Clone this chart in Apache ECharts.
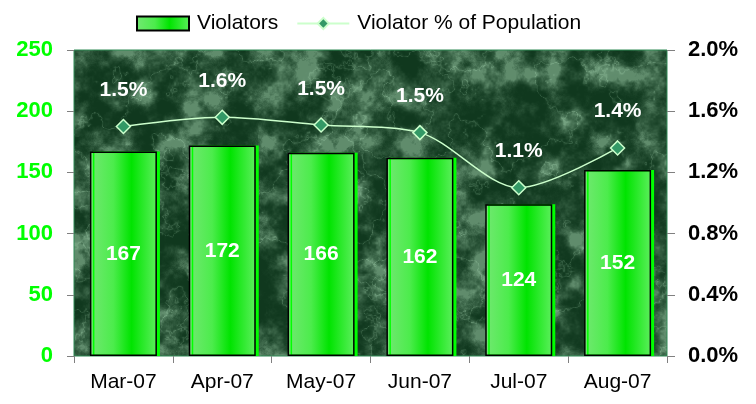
<!DOCTYPE html>
<html>
<head>
<meta charset="utf-8">
<script src="https://cdn.jsdelivr.net/npm/echarts@6/dist/echarts.min.js"></script>
<style>html,body{margin:0;padding:0;background:#fff}#c{width:756px;height:404px}</style>
</head>
<body>
<div id="c"></div>
<script>
const categories = ['Mar-07', 'Apr-07', 'May-07', 'Jun-07', 'Jul-07', 'Aug-07'];
const violators = [167, 172, 166, 162, 124, 152];
const violatorPct = [1.50, 1.56, 1.51, 1.46, 1.10, 1.36];
const leftTicks = { min: 0, max: 250, interval: 50 };
const rightTicks = { min: 0, max: 2.0, interval: 0.4 };

// decorative marble-like texture for the plot background (deterministic hash noise)
function makeTexture(w, h) {
  const c = document.createElement('canvas');
  c.width = w; c.height = h;
  const ctx = c.getContext('2d');
  const img = ctx.createImageData(w, h);
  const d = img.data;
  const hash = (ix, iy) => { const s = Math.sin(ix * 127.1 + iy * 311.7) * 43758.5453; return s - Math.floor(s); };
  const sm = t => t * t * (3 - 2 * t);
  const noise = (x, y) => {
    const ix = Math.floor(x), iy = Math.floor(y), fx = sm(x - ix), fy = sm(y - iy);
    const a = hash(ix, iy), b = hash(ix + 1, iy), cc = hash(ix, iy + 1), dd = hash(ix + 1, iy + 1);
    return a + (b - a) * fx + (cc - a) * fy + (a - b - cc + dd) * fx * fy;
  };
  const fbm = (x, y) => {
    let v = 0, amp = 0.5, f = 1 / 24;
    for (let o = 0; o < 5; o++) { v += amp * noise(x * f + o * 17.3, y * f + o * 9.1); amp *= 0.55; f *= 2.2; }
    return v / 1.0;
  };
  for (let y = 0; y < h; y++) {
    for (let x = 0; x < w; x++) {
      const n = fbm(x, y);
      const m = fbm(x * 0.5 + 300, y * 0.5 + 200);
      const vein = Math.pow(1 - Math.abs(Math.sin(x * 0.015 + y * 0.025 + m * 9)), 10);
      let t = Math.min(1, Math.max(0, (n - 0.3) / 0.45));
      t = t * t * 0.8 + vein * 0.35;
      t = Math.min(1, t);
      const i = (y * w + x) * 4;
      d[i] = 16 + t * 100;
      d[i + 1] = 56 + t * 105;
      d[i + 2] = 30 + t * 98;
      d[i + 3] = 255;
    }
  }
  ctx.putImageData(img, 0, 0);
  return c;
}

const chart = echarts.init(document.getElementById('c'), null, { renderer: 'canvas' });
const FONT = 'Arial, "Liberation Sans", sans-serif';
const barGrad = new echarts.graphic.LinearGradient(0, 0, 1, 0, [
  { offset: 0, color: '#72e872' },
  { offset: 0.35, color: '#4cec4c' },
  { offset: 0.62, color: '#00e400' },
  { offset: 1, color: '#5cef5c' }
]);

chart.setOption({
  animation: false,
  backgroundColor: '#ffffff',
  textStyle: { fontFamily: FONT },
  legend: {
    left: 131, top: 8,
    itemWidth: 52, itemHeight: 14, itemGap: 18,
    textStyle: { fontSize: 21, color: '#000', fontFamily: FONT, padding: [0, 0, 0, 3] },
    data: [{ name: 'Violators', icon: 'rect' }, { name: 'Violator % of Population' }]
  },
  grid: {
    left: 74, right: 89, top: 50, bottom: 48,
    show: true,
    backgroundColor: { image: makeTexture(760, 410), repeat: 'no-repeat' },
    borderColor: '#2f8a55', borderWidth: 1
  },
  xAxis: {
    type: 'category',
    data: categories,
    boundaryGap: true,
    axisLine: { show: false },
    axisTick: { show: true, length: 7, lineStyle: { color: '#808080' } },
    axisLabel: { margin: 16, fontSize: 21, color: '#000', fontFamily: FONT },
    splitLine: { show: false }
  },
  yAxis: [
    {
      type: 'value', min: leftTicks.min, max: leftTicks.max, interval: leftTicks.interval,
      axisLine: { show: false },
      axisTick: { show: true, length: 7, lineStyle: { color: '#808080' } },
      axisLabel: { margin: 21, fontSize: 22, fontWeight: 'bold', color: '#00ff00', fontFamily: FONT },
      splitLine: { show: false }
    },
    {
      type: 'value', min: rightTicks.min, max: rightTicks.max, interval: rightTicks.interval,
      position: 'right',
      axisLine: { show: false },
      axisTick: { show: true, length: 8, lineStyle: { color: '#808080' } },
      axisLabel: { margin: 21, fontSize: 22, fontWeight: 'bold', color: '#000', fontFamily: FONT,
        formatter: v => v.toFixed(1) + '%' },
      splitLine: { show: false }
    }
  ],
  series: [
    {
      name: 'Violators',
      type: 'bar',
      data: violators,
      barWidth: 67,
      itemStyle: {
        color: barGrad,
        borderColor: '#000', borderWidth: 1.5,
        shadowColor: '#00ff00', shadowOffsetX: 3, shadowOffsetY: 0, shadowBlur: 0
      },
      label: {
        show: true, position: 'inside', color: '#fff', fontSize: 21, fontWeight: 'bold', fontFamily: FONT
      },
      z: 2
    },
    {
      name: 'Violator % of Population',
      type: 'line',
      yAxisIndex: 1,
      data: violatorPct,
      smooth: 0.3,
      symbol: 'diamond',
      symbolSize: 14,
      lineStyle: { color: '#ccffcc', width: 1.5 },
      itemStyle: { color: '#339966', borderColor: '#ccffcc', borderWidth: 1.5 },
      label: {
        show: true, position: 'top', distance: 18,
        color: '#fff', fontSize: 21, fontWeight: 'bold', fontFamily: FONT,
        formatter: p => p.value.toFixed(1) + '%'
      },
      z: 3
    }
  ]
});
</script>
</body>
</html>
